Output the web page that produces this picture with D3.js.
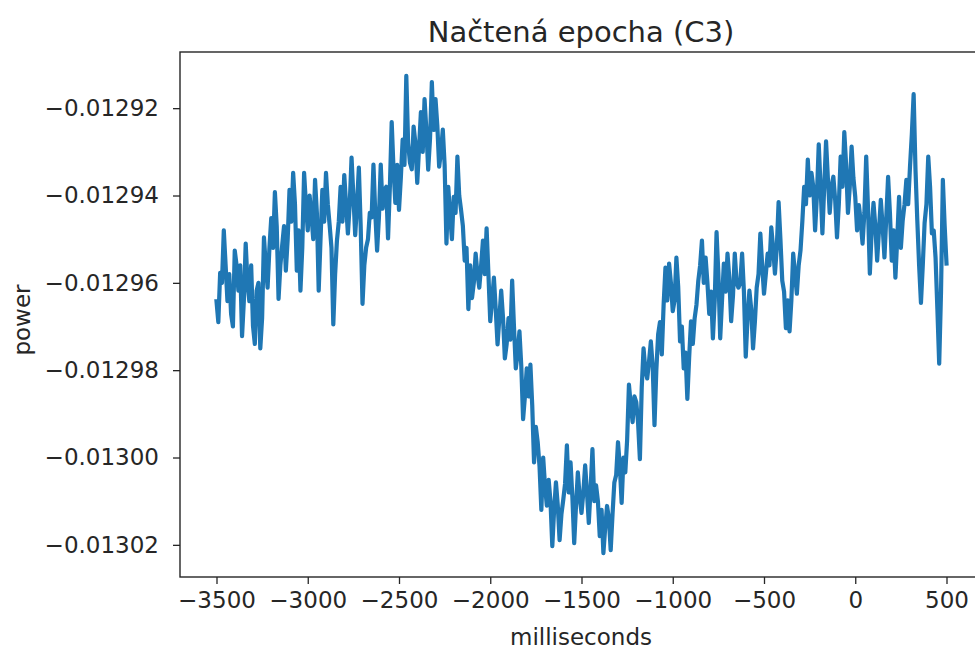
<!DOCTYPE html>
<html>
<head>
<meta charset="utf-8">
<script src="https://cdn.jsdelivr.net/npm/d3@7"></script>
<style>
  body { margin: 0; background: #fff; }
  svg text { font-family: "DejaVu Sans", sans-serif; fill: #262626; }
</style>
</head>
<body>
<svg id="plot"></svg>
<script>
const width = 975;
const height = 649;

const title = 'Načtená epocha (C3)';
const xLabel = 'milliseconds';
const yLabel = 'power';

// sampling of the epoch
const startMs = -3500;
const stepMs = 10;

// one value per 10 ms
const power = [
  -0.0129642, -0.0129690, -0.0129577, -0.0129600, -0.0129480, -0.0129560, -0.0129642, -0.0129580,
  -0.0129671, -0.0129700, -0.0129526, -0.0129560, -0.0129618, -0.0129560, -0.0129722, -0.0129640,
  -0.0129510, -0.0129600, -0.0129642, -0.0129560, -0.0129699, -0.0129740, -0.0129618, -0.0129600,
  -0.0129750, -0.0129680, -0.0129496, -0.0129560, -0.0129611, -0.0129520, -0.0129452, -0.0129520,
  -0.0129392, -0.0129470, -0.0129637, -0.0129560, -0.0129514, -0.0129470, -0.0129572, -0.0129500,
  -0.0129387, -0.0129460, -0.0129348, -0.0129420, -0.0129572, -0.0129480, -0.0129618, -0.0129520,
  -0.0129348, -0.0129420, -0.0129480, -0.0129400, -0.0129445, -0.0129500, -0.0129364, -0.0129440,
  -0.0129618, -0.0129500, -0.0129387, -0.0129460, -0.0129348, -0.0129420, -0.0129468, -0.0129520,
  -0.0129695, -0.0129580, -0.0129503, -0.0129460, -0.0129380, -0.0129460, -0.0129353, -0.0129420,
  -0.0129487, -0.0129420, -0.0129313, -0.0129400, -0.0129491, -0.0129420, -0.0129336, -0.0129470,
  -0.0129648, -0.0129560, -0.0129519, -0.0129500, -0.0129440, -0.0129450, -0.0129329, -0.0129440,
  -0.0129526, -0.0129450, -0.0129329, -0.0129430, -0.0129387, -0.0129380, -0.0129498, -0.0129380,
  -0.0129232, -0.0129340, -0.0129417, -0.0129330, -0.0129433, -0.0129360, -0.0129272, -0.0129330,
  -0.0129126, -0.0129280, -0.0129325, -0.0129340, -0.0129242, -0.0129280, -0.0129371, -0.0129290,
  -0.0129209, -0.0129300, -0.0129179, -0.0129250, -0.0129341, -0.0129270, -0.0129140, -0.0129250,
  -0.0129179, -0.0129240, -0.0129334, -0.0129300, -0.0129249, -0.0129330, -0.0129510, -0.0129380,
  -0.0129445, -0.0129500, -0.0129403, -0.0129440, -0.0129311, -0.0129400, -0.0129433, -0.0129470,
  -0.0129549, -0.0129520, -0.0129660, -0.0129560, -0.0129635, -0.0129600, -0.0129533, -0.0129580,
  -0.0129611, -0.0129560, -0.0129503, -0.0129580, -0.0129475, -0.0129580, -0.0129688, -0.0129640,
  -0.0129588, -0.0129660, -0.0129741, -0.0129680, -0.0129618, -0.0129680, -0.0129773, -0.0129740,
  -0.0129681, -0.0129730, -0.0129595, -0.0129700, -0.0129796, -0.0129760, -0.0129711, -0.0129790,
  -0.0129912, -0.0129860, -0.0129796, -0.0129860, -0.0129787, -0.0129880, -0.0130011, -0.0129930,
  -0.0129965, -0.0130020, -0.0130120, -0.0130000, -0.0130064, -0.0130110, -0.0130051, -0.0130100,
  -0.0130203, -0.0130120, -0.0130057, -0.0130110, -0.0130189, -0.0130130, -0.0130097, -0.0130060,
  -0.0129972, -0.0130080, -0.0130011, -0.0130090, -0.0130196, -0.0130110, -0.0130034, -0.0130090,
  -0.0130127, -0.0130080, -0.0130018, -0.0130080, -0.0130150, -0.0130070, -0.0129981, -0.0130100,
  -0.0130064, -0.0130100, -0.0130180, -0.0130120, -0.0130219, -0.0130160, -0.0130111, -0.0130140,
  -0.0130212, -0.0130130, -0.0130057, -0.0130040, -0.0129965, -0.0130020, -0.0130104, -0.0130000,
  -0.0130034, -0.0129960, -0.0129833, -0.0129880, -0.0129919, -0.0129860, -0.0129873, -0.0129920,
  -0.0130004, -0.0129840, -0.0129750, -0.0129800, -0.0129819, -0.0129780, -0.0129734, -0.0129790,
  -0.0129926, -0.0129800, -0.0129718, -0.0129690, -0.0129764, -0.0129650, -0.0129565, -0.0129640,
  -0.0129556, -0.0129600, -0.0129665, -0.0129640, -0.0129542, -0.0129610, -0.0129734, -0.0129700,
  -0.0129796, -0.0129760, -0.0129866, -0.0129770, -0.0129688, -0.0129740, -0.0129681, -0.0129650,
  -0.0129595, -0.0129560, -0.0129503, -0.0129600, -0.0129542, -0.0129600, -0.0129671, -0.0129620,
  -0.0129727, -0.0129640, -0.0129484, -0.0129580, -0.0129727, -0.0129640, -0.0129556, -0.0129620,
  -0.0129533, -0.0129590, -0.0129688, -0.0129630, -0.0129533, -0.0129600, -0.0129611, -0.0129600,
  -0.0129533, -0.0129620, -0.0129769, -0.0129680, -0.0129618, -0.0129660, -0.0129750, -0.0129690,
  -0.0129611, -0.0129580, -0.0129487, -0.0129560, -0.0129625, -0.0129580, -0.0129533, -0.0129560,
  -0.0129473, -0.0129520, -0.0129579, -0.0129520, -0.0129415, -0.0129500, -0.0129595, -0.0129620,
  -0.0129704, -0.0129640, -0.0129711, -0.0129640, -0.0129533, -0.0129580, -0.0129625, -0.0129560,
  -0.0129526, -0.0129460, -0.0129380, -0.0129420, -0.0129318, -0.0129400, -0.0129348, -0.0129380,
  -0.0129480, -0.0129400, -0.0129283, -0.0129380, -0.0129487, -0.0129380, -0.0129276, -0.0129360,
  -0.0129440, -0.0129380, -0.0129357, -0.0129410, -0.0129496, -0.0129420, -0.0129311, -0.0129380,
  -0.0129255, -0.0129330, -0.0129440, -0.0129380, -0.0129288, -0.0129360, -0.0129403, -0.0129480,
  -0.0129422, -0.0129460, -0.0129510, -0.0129440, -0.0129311, -0.0129430, -0.0129579, -0.0129480,
  -0.0129417, -0.0129470, -0.0129549, -0.0129480, -0.0129410, -0.0129470, -0.0129542, -0.0129450,
  -0.0129357, -0.0129440, -0.0129549, -0.0129480, -0.0129588, -0.0129500, -0.0129403, -0.0129520,
  -0.0129457, -0.0129420, -0.0129364, -0.0129420, -0.0129334, -0.0129260, -0.0129168, -0.0129340,
  -0.0129457, -0.0129560, -0.0129646, -0.0129560, -0.0129463, -0.0129420, -0.0129311, -0.0129380,
  -0.0129487, -0.0129480, -0.0129542, -0.0129660, -0.0129785, -0.0129620, -0.0129364, -0.0129470,
  -0.0129556
];

const xTicks = [-3500, -3000, -2500, -2000, -1500, -1000, -500, 0, 500];
const yTicks = [-0.01302, -0.01300, -0.01298, -0.01296, -0.01294, -0.01292];

const lineColor = '#1f77b4';

let svg, sx, sy;

function main(){
  svg = d3.select('svg#plot')
  .attr('width', width)
  .attr('height', height);

  svg.append('rect')
  .attr('width', width)
  .attr('height', height)
  .attr('fill', '#fff');

  const data = power.map((d,i)=>({t: startMs + i*stepMs, v: d}));

  // matplotlib style 5% margins around the data
  const tExt = d3.extent(data, d=>d.t);
  const vExt = d3.extent(data, d=>d.v);
  const tPad = (tExt[1]-tExt[0])*0.05;
  const vPad = (vExt[1]-vExt[0])*0.05;

  sx = d3.scaleLinear()
  .domain([tExt[0]-tPad, tExt[1]+tPad])
  .range([180, 983]);

  sy = d3.scaleLinear()
  .domain([vExt[0]-vPad, vExt[1]+vPad])
  .range([577, 52]);

  const line = d3.line()
  .x(d=>sx(d.t))
  .y(d=>sy(d.v));

  svg.append('path')
  .datum(data)
  .attr('d', line)
  .attr('fill', 'none')
  .attr('stroke', lineColor)
  .attr('stroke-width', 4.2)
  .attr('stroke-linejoin', 'round')
  .attr('stroke-linecap', 'square');

  drawAxes();
}

function drawAxes(){
  const fmtY = d3.format('.5f');
  const fmtX = d3.format('d');

  const xAxis = svg.append('g')
  .attr('transform', `translate(0,577)`)
  .call(d3.axisBottom(sx).tickValues(xTicks).tickFormat(fmtX).tickSize(7).tickPadding(8));

  const yAxis = svg.append('g')
  .attr('transform', `translate(180,0)`)
  .call(d3.axisLeft(sy).tickValues(yTicks).tickFormat(fmtY).tickSize(7).tickPadding(14));

  [xAxis, yAxis].forEach(g=>{
    g.select('.domain').remove();
    g.selectAll('.tick line').attr('stroke', '#262626').attr('stroke-width', 1.3);
    g.selectAll('.tick text')
    .attr('font-family', '"DejaVu Sans", sans-serif')
    .attr('font-size', 23)
    .attr('fill', '#262626');
  });

  // frame
  svg.append('rect')
  .attr('x', 180)
  .attr('y', 52)
  .attr('width', 983-180)
  .attr('height', 577-52)
  .attr('fill', 'none')
  .attr('stroke', '#262626')
  .attr('stroke-width', 1.4);

  svg.append('text')
  .attr('x', 581)
  .attr('y', 42)
  .attr('text-anchor', 'middle')
  .attr('font-size', 29)
  .text(title);

  svg.append('text')
  .attr('x', 581)
  .attr('y', 645)
  .attr('text-anchor', 'middle')
  .attr('font-size', 23)
  .text(xLabel);

  svg.append('text')
  .attr('transform', 'translate(30,320) rotate(-90)')
  .attr('text-anchor', 'middle')
  .attr('font-size', 23)
  .text(yLabel);
}

document.addEventListener('DOMContentLoaded', main);
</script>
</body>
</html>
